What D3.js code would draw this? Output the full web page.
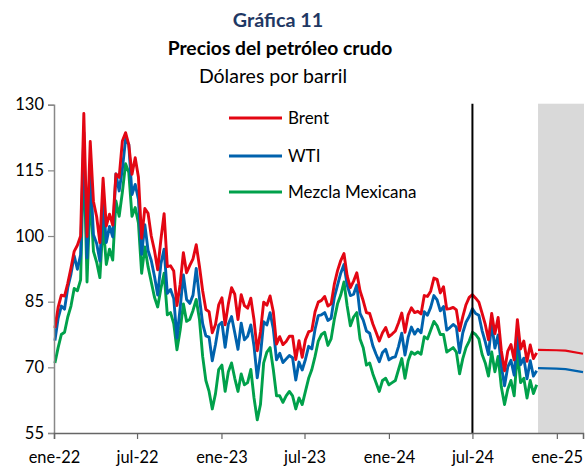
<!DOCTYPE html>
<html>
<head>
<meta charset="utf-8">
<script src="https://cdn.jsdelivr.net/npm/d3@7"></script>
<style>
  body { margin: 0; background: #fff; }
  svg text { font-family: Lato, "Noto Sans", sans-serif; }
</style>
</head>
<body>
<script>
// weekly series starting on firstWeek (Monday), one value per week
var firstWeek = "2022-01-03";

var brent = [
  79.0, 83.7, 86.5, 86.3, 89.2, 92.7, 96.5, 97.9, 100.0, 128.0,
  99.9, 121.6, 107.9, 104.4, 98.5, 113.2, 102.3, 105.0, 102.5, 114.2,
  113.4, 121.7, 123.6, 120.9, 114.1, 117.9, 113.5, 99.5, 106.3, 105.2,
  100.0, 96.7, 92.3, 99.2, 105.1, 93.0, 93.2, 92.0, 84.1, 89.0,
  96.2, 91.6, 93.3, 94.8, 98.0, 93.1, 87.5, 83.2, 82.7, 77.9,
  79.8, 84.3, 85.9, 79.7, 84.5, 88.2, 86.7, 80.9, 86.6, 84.1,
  83.5, 85.8, 80.8, 73.8, 78.1, 84.9, 84.2, 86.3, 82.7, 75.3,
  77.0, 75.2, 75.9, 77.1, 77.1, 71.8, 76.1, 72.3, 76.3, 78.1,
  78.5, 82.7, 84.9, 85.3, 86.2, 84.0, 84.5, 89.0, 92.1, 94.4,
  96.0, 90.9, 88.2, 89.7, 91.6, 87.5, 85.2, 82.5, 82.3, 79.9,
  78.0, 76.0, 77.9, 79.1, 77.0, 77.6, 78.3, 80.2, 82.4, 78.0,
  82.0, 83.6, 82.5, 82.8, 82.2, 86.4, 86.2, 87.4, 90.4, 90.1,
  87.0, 88.4, 83.3, 83.4, 83.7, 83.1, 78.4, 81.6, 84.3, 86.0,
  86.6, 85.8, 84.9, 82.4, 79.8, 76.3, 82.3, 77.7, 81.4, 73.8,
  69.2, 73.7, 75.2, 71.7, 80.9, 74.2, 76.0, 71.4, 75.1, 72.0,
  73.3
];

var wti = [
  76.1, 81.2, 84.0, 83.3, 88.2, 91.3, 95.5, 92.4, 95.7, 123.7,
  95.0, 114.9, 100.3, 98.3, 94.3, 108.2, 98.5, 102.2, 99.8, 114.2,
  110.3, 115.3, 122.1, 120.9, 109.5, 111.8, 108.4, 95.8, 102.6, 96.7,
  94.4, 90.8, 86.5, 93.7, 97.0, 86.9, 87.8, 85.7, 76.7, 83.6,
  91.1, 85.5, 84.6, 86.5, 92.6, 85.9, 80.0, 77.2, 76.9, 71.5,
  75.2, 79.6, 80.3, 74.6, 79.9, 81.6, 77.9, 74.1, 80.1, 76.3,
  77.1, 79.7, 74.8, 67.6, 72.8, 80.4, 79.7, 82.5, 78.8, 71.7,
  73.2, 71.1, 71.9, 72.7, 72.2, 67.1, 71.2, 69.4, 71.8, 74.8,
  74.2, 78.7, 81.8, 82.0, 82.5, 80.7, 81.2, 86.0, 88.8, 91.5,
  93.5, 88.8, 86.4, 86.7, 88.8, 82.3, 80.8, 78.3, 77.8, 74.9,
  73.0, 71.3, 73.4, 74.1, 71.7, 72.2, 72.4, 74.8, 77.8, 72.8,
  76.9, 79.2, 77.6, 78.7, 77.9, 82.7, 81.9, 83.7, 86.4, 85.4,
  82.9, 83.9, 78.5, 79.1, 79.8, 79.2, 73.3, 77.9, 80.3, 81.6,
  83.4, 82.3, 81.9, 78.4, 75.8, 72.9, 80.1, 74.4, 77.4, 70.3,
  65.8, 70.1, 71.6, 68.2, 77.1, 70.6, 72.1, 67.4, 71.5, 68.0,
  69.2
];

var mezcla = [
  71.0, 74.5, 77.5, 78.0, 81.5, 84.0, 88.0, 87.5, 90.0, 119.5,
  89.5, 110.0, 96.5, 94.0, 90.5, 103.0, 93.5, 97.0, 94.5, 108.0,
  104.5, 110.0, 116.5, 114.5, 104.5, 106.5, 103.0, 91.5, 97.5, 93.0,
  89.5, 86.0, 83.8, 88.0, 91.5, 82.0, 82.5, 80.0, 74.0, 78.5,
  84.5, 80.5, 81.0, 83.0, 85.5, 81.0, 72.5, 67.0, 64.5, 60.5,
  64.0, 69.5, 70.5, 64.5, 69.0, 71.0, 67.5, 64.5, 68.5, 66.0,
  66.5, 69.5, 63.0, 58.0, 61.5, 71.0, 73.5, 74.5, 69.5, 63.5,
  63.5, 62.0, 63.5, 64.5, 63.5, 60.5, 63.0, 61.5, 64.5, 67.5,
  69.5, 72.5, 76.0, 77.5, 78.0, 75.0, 76.5, 81.0, 84.5, 86.5,
  89.5, 84.0, 79.5, 81.5, 82.5, 76.5, 74.5, 70.5, 71.0, 68.5,
  66.5, 64.5, 67.0, 67.5, 66.0, 66.5, 67.0, 69.5, 72.0, 67.5,
  71.5, 73.5, 73.0, 73.5, 73.0, 77.0, 76.5, 78.5, 80.5, 79.5,
  77.5, 77.5, 73.5, 74.0, 74.5, 73.5, 68.5, 72.0, 74.5, 76.0,
  78.0, 77.5, 76.5, 73.0, 71.0, 68.0, 73.5, 69.0, 72.5, 65.5,
  61.5, 65.0, 67.0, 63.5, 73.5, 66.5, 67.5, 63.0, 67.0, 64.0,
  66.0
];

// futures (shaded area)
var fcDates = ["2024-11-21", "2024-12-31", "2025-01-20", "2025-02-27"];
var fcBrent = [74.0, 73.9, 73.8, 73.1];
var fcWti = [69.8, 69.7, 69.6, 68.9];

var yTicks = [55, 70, 85, 100, 115, 130];
var monthNames = ["ene","feb","mar","abr","may","jun","jul","ago","sep","oct","nov","dic"];
var cutDate = "2024-07-01";
var shadeStart = "2024-11-21";

var W = 586, H = 469;
var mL = 54, mR = 583, mT = 104.7, mB = 433;
var parse = d3.timeParse("%Y-%m-%d");

var svg = d3.select("body").append("svg")
    .attr("width", W)
    .attr("height", H);

var x = d3.scaleTime()
    .domain([parse("2022-01-01"), parse("2025-02-27")])
    .range([mL, mR]);
var y = d3.scaleLinear()
    .domain([55, 130])
    .range([mB, mT]);

var start = parse(firstWeek);
function weekly(vals) {
    return vals.map(function(v, i) {
        return { date: d3.timeDay.offset(start, i * 7), value: v };
    });
}
function fc(vals) {
    return vals.map(function(v, i) { return { date: parse(fcDates[i]), value: v }; });
}

// shaded forecast zone
svg.append("rect")
    .attr("x", x(parse(shadeStart)))
    .attr("y", mT - 1)
    .attr("width", mR + 1 - x(parse(shadeStart)))
    .attr("height", mB - mT + 1)
    .attr("fill", "#d9d9d9");

// titles
svg.append("text").attr("x", 278).attr("y", 27).attr("text-anchor", "middle")
    .attr("font-size", 19.8).attr("font-weight", "bold").attr("fill", "#1f3864")
    .text("Gráfica 11");
svg.append("text").attr("x", 280).attr("y", 55).attr("text-anchor", "middle")
    .attr("font-size", 19.3).attr("font-weight", "bold").attr("fill", "#000")
    .text("Precios del petróleo crudo");
svg.append("text").attr("x", 273).attr("y", 83).attr("text-anchor", "middle")
    .attr("font-size", 19.5).attr("fill", "#000")
    .text("Dólares por barril");

var line = d3.line()
    .x(function(d) { return x(d.date); })
    .y(function(d) { return y(d.value); });

var series = [
    { name: "Brent", color: "#e30613", data: weekly(brent) },
    { name: "WTI", color: "#0062ad", data: weekly(wti) },
    { name: "Mezcla Mexicana", color: "#00a14b", data: weekly(mezcla) }
];

// draw green first so red stays on top
series.slice().reverse().forEach(function(s) {
    svg.append("path")
        .datum(s.data)
        .attr("fill", "none")
        .attr("stroke", s.color)
        .attr("stroke-width", 2.9)
        .attr("stroke-linejoin", "round")
        .attr("d", line);
});

svg.append("path").datum(fc(fcWti))
    .attr("fill", "none").attr("stroke", "#0062ad").attr("stroke-width", 2.2).attr("d", line);
svg.append("path").datum(fc(fcBrent))
    .attr("fill", "none").attr("stroke", "#e30613").attr("stroke-width", 2.2).attr("d", line);

// vertical line at jul-24
svg.append("line")
    .attr("x1", x(parse(cutDate))).attr("x2", x(parse(cutDate)))
    .attr("y1", mT - 1).attr("y2", mB)
    .attr("stroke", "#000").attr("stroke-width", 2);

// axes
var yAxis = d3.axisLeft(y).tickValues(yTicks).tickSize(6).tickPadding(4);
var gy = svg.append("g").attr("transform", "translate(" + mL + ",0)").call(yAxis);
gy.select(".domain").attr("stroke", "#888").attr("stroke-width", 1.5);
gy.selectAll(".tick line").attr("stroke", "#888").attr("stroke-width", 1.2);
gy.selectAll(".tick text").attr("font-size", 16.5).attr("fill", "#000")
    .style("font-family", "Lato, sans-serif");

var xTicks = d3.timeMonth.every(6).range(parse("2022-01-01"), parse("2025-02-01"));
var xAxis = d3.axisBottom(x).tickValues(xTicks).tickSize(6).tickPadding(12)
    .tickFormat(function(d) {
        return monthNames[d.getMonth()] + "-" + String(d.getFullYear()).slice(2);
    });
var gx = svg.append("g").attr("transform", "translate(0," + mB + ")").call(xAxis);
gx.select(".domain").attr("stroke", "#666").attr("stroke-width", 1.5);
gx.selectAll(".tick line").attr("stroke", "#666").attr("stroke-width", 1.2);
gx.selectAll(".tick text").attr("font-size", 16.4).attr("fill", "#000")
    .style("font-family", "Lato, sans-serif");

// legend
var lg = svg.append("g");
series.forEach(function(s, i) {
    var ly = [118, 156, 192][i];
    lg.append("line").attr("x1", 229).attr("x2", 282).attr("y1", ly).attr("y2", ly)
        .attr("stroke", s.color).attr("stroke-width", 2.9);
    lg.append("text").attr("x", 288).attr("y", ly).attr("dy", "0.36em")
        .attr("font-size", 17).attr("fill", "#000").text(s.name);
});
</script>
</body>
</html>
